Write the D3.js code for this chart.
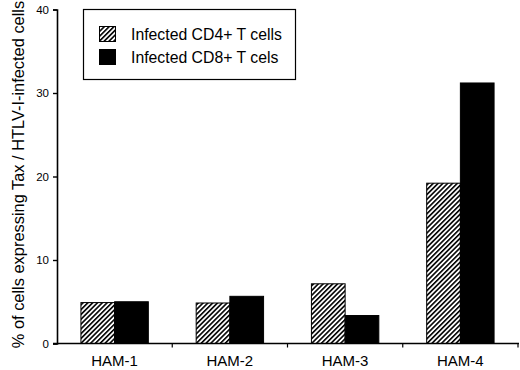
<!DOCTYPE html>
<html><head><meta charset="utf-8">
<script src="https://cdn.jsdelivr.net/npm/d3@7"></script>
<style>body{margin:0;background:#fff}svg{display:block;font-family:"Liberation Sans",Arial,sans-serif}</style>
</head><body><svg id="c" width="520" height="370"></svg>
<script>
const categories = ["HAM-1","HAM-2","HAM-3","HAM-4"];
const seriesNames = ["Infected CD4+ T cells","Infected CD8+ T cels"];
const cd4 = [4.9, 4.85, 7.15, 19.2];
const cd8 = [5.0, 5.65, 3.35, 31.2];
const yTicks = [0,10,20,30,40];

const svg = d3.select("#c");
const defs = svg.append("defs");
const pat = defs.append("pattern").attr("id","hatch").attr("patternUnits","userSpaceOnUse")
  .attr("width",3.4).attr("height",3.4).attr("patternTransform","rotate(45)");
pat.append("rect").attr("width",3.4).attr("height",3.4).attr("fill","#fff");
pat.append("rect").attr("x",0).attr("y",0).attr("width",1.6).attr("height",3.4).attr("fill","#000");

const x0 = 57, x1 = 518, yb = 343.5, yt = 9.5;
const x = d3.scaleBand().domain(categories).range([x0,x1]).paddingInner(0).paddingOuter(0);
const y = d3.scaleLinear().domain([0,40]).range([yb,yt]);
const inner = d3.scaleBand().domain([0,1]).range([0,x.bandwidth()]).paddingInner(0).paddingOuter(0.71);

const data = categories.map((c,i)=>({c, v:[cd4[i],cd8[i]]}));
const g = svg.append("g");
data.forEach(d=>{
  d.v.forEach((v,k)=>{
    g.append("rect").attr("x",x(d.c)+inner(k)).attr("y",y(v))
      .attr("width",inner.bandwidth()).attr("height",yb-y(v))
      .attr("fill",k===0?"url(#hatch)":"#000").attr("stroke","#000").attr("stroke-width",1);
  });
});

// y axis
const ya = svg.append("g").attr("transform",`translate(${x0},0)`)
  .call(d3.axisLeft(y).tickValues(yTicks).tickSize(4).tickPadding(4));
ya.select(".domain").attr("stroke-width",1.6);
ya.selectAll("line").attr("stroke-width",1.4);
ya.selectAll("text").attr("font-size",11.5).attr("font-family","Liberation Sans, Arial, sans-serif").attr("fill","#000");

// x axis
const xa = svg.append("g").attr("transform",`translate(0,${yb})`);
xa.append("line").attr("x1",x0-4).attr("x2",x1+1).attr("y1",0).attr("y2",0).attr("stroke","#000").attr("stroke-width",1.6);
categories.slice(1).concat([null]).forEach(c=>{
  const xp = c===null ? x1 : x(c);
  xa.append("line").attr("x1",xp).attr("x2",xp).attr("y1",0).attr("y2",4).attr("stroke","#000").attr("stroke-width",1.2);
});
categories.forEach(c=>{
  xa.append("text").attr("x",x(c)+x.bandwidth()/2).attr("y",22.5).attr("text-anchor","middle")
    .attr("font-size",15).text(c);
});

// y title
svg.append("text").attr("transform","translate(24,174.5) rotate(-90)").attr("text-anchor","middle")
  .attr("font-size",16.4).text("% of cells expressing Tax / HTLV-I-infected cells");

// legend
const lg = svg.append("g");
lg.append("rect").attr("x",83.5).attr("y",9.5).attr("width",212).attr("height",70).attr("fill","#fff").attr("stroke","#000").attr("stroke-width",1.2);
seriesNames.forEach((s,i)=>{
  lg.append("rect").attr("x",99.5).attr("y",26.5+i*23).attr("width",16).attr("height",15)
    .attr("fill",i===0?"url(#hatch)":"#000").attr("stroke","#000");
  lg.append("text").attr("x",131).attr("y",39.5+i*23).attr("font-size",15.8).text(s);
});
</script></body></html>
